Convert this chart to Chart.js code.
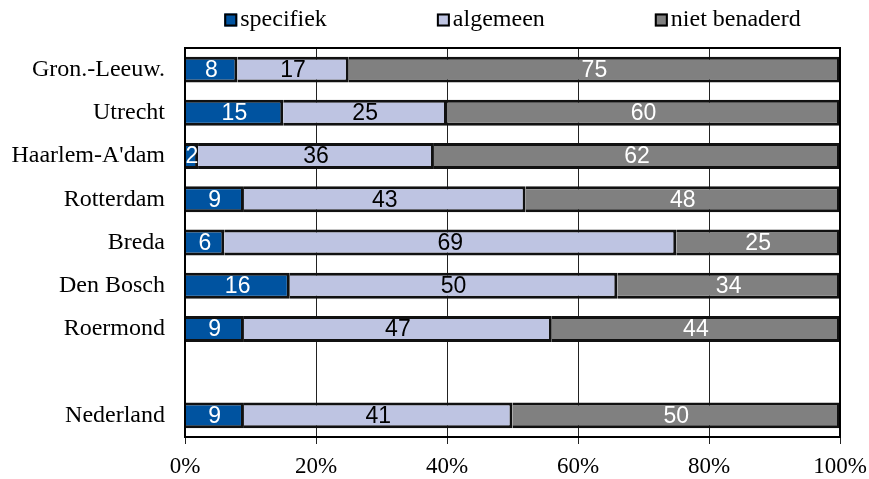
<!DOCTYPE html>
<html>
<head>
<meta charset="utf-8">
<script src="https://cdn.jsdelivr.net/npm/chart.js@4"></script>
<style>
html,body{margin:0;padding:0;background:#fff;}
#wrap{width:869px;height:479px;position:relative;}
</style>
</head>
<body>
<div id="wrap"><canvas id="c"></canvas></div>
<script>
const categories = ['Gron.-Leeuw.', 'Utrecht', "Haarlem-A'dam", 'Rotterdam', 'Breda', 'Den Bosch', 'Roermond', '', 'Nederland'];
const specifiek = [8, 15, 2, 9, 6, 16, 9, null, 9];
const algemeen = [17, 25, 36, 43, 69, 50, 47, null, 41];
const nietBenaderd = [75, 60, 62, 48, 25, 34, 44, null, 50];
const seriesNames = ['specifiek', 'algemeen', 'niet benaderd'];
const xTickValues = [0, 20, 40, 60, 80, 100];

const colors = ['#0053A0', '#BEC4E2', '#808080'];
const labelColors = ['#ffffff', '#000000', '#ffffff'];

const frameAndLabels = {
  id: 'frameAndLabels',
  afterDatasetsDraw(chart) {
    const ctx = chart.ctx;
    const a = chart.chartArea;
    ctx.save();
    ctx.font = '23px "Liberation Sans", Arial, sans-serif';
    ctx.textAlign = 'center';
    ctx.textBaseline = 'middle';
    chart.data.datasets.forEach((ds, di) => {
      const meta = chart.getDatasetMeta(di);
      meta.data.forEach((el, i) => {
        const v = ds.data[i];
        if (v === null || v === undefined) return;
        ctx.fillStyle = labelColors[di];
        ctx.fillText(String(v), (el.x + el.base) / 2, el.y + 1);
      });
    });
    ctx.strokeStyle = '#000';
    ctx.lineWidth = 2;
    ctx.strokeRect(a.left, a.top, a.right - a.left, a.bottom - a.top);
    ctx.restore();
  },
  afterDraw(chart) {
    const ctx = chart.ctx;
    const a = chart.chartArea;
    ctx.save();
    ctx.font = '24px "Liberation Serif", "Times New Roman", serif';
    ctx.textBaseline = 'middle';
    ctx.textAlign = 'left';
    const box = 13, boxGap = 3, itemGap = 110;
    const widths = chart.data.datasets.map(ds => box + boxGap + ctx.measureText(ds.label).width);
    const total = widths.reduce((s, w) => s + w, 0) + itemGap * (widths.length - 1);
    let x = (a.left + a.right) / 2 - total / 2;
    const yc = 20;
    chart.data.datasets.forEach((ds, i) => {
      ctx.fillStyle = ds.backgroundColor;
      ctx.fillRect(x, yc - box / 2, box, box);
      ctx.strokeStyle = '#000';
      ctx.lineWidth = 2;
      ctx.strokeRect(x + 1, yc - box / 2 + 1, box - 2, box - 2);
      ctx.fillStyle = '#000';
      ctx.fillText(ds.label, x + box + boxGap, yc);
      x += widths[i] + itemGap;
    });
    ctx.restore();
  }
};

new Chart(document.getElementById('c'), {
  type: 'bar',
  data: {
    labels: categories,
    datasets: [
      { label: seriesNames[0], data: specifiek, backgroundColor: colors[0] },
      { label: seriesNames[1], data: algemeen, backgroundColor: colors[1] },
      { label: seriesNames[2], data: nietBenaderd, backgroundColor: colors[2] }
    ]
  },
  options: {
    indexAxis: 'y',
    responsive: true,
    maintainAspectRatio: false,
    animation: false,
    devicePixelRatio: 1,
    layout: { padding: { top: 48, left: 10, right: 29, bottom: 0 } },
    datasets: {
      bar: {
        borderColor: '#111',
        borderWidth: 3,
        categoryPercentage: 1,
        barPercentage: 0.6
      }
    },
    plugins: {
      legend: { display: false },
      tooltip: { enabled: false }
    },
    scales: {
      x: {
        stacked: true,
        min: 0,
        max: 100,
        afterBuildTicks(scale) { scale.ticks = xTickValues.map(v => ({ value: v })); },
        afterFit(scale) { scale.height = 42; scale.paddingRight = 0; scale.paddingLeft = 0; },
        ticks: {
          callback: v => v + '%',
          color: '#000',
          padding: 11,
          maxRotation: 0,
          font: { family: '"Liberation Serif", "Times New Roman", serif', size: 23, lineHeight: 1 }
        },
        grid: { color: '#222', lineWidth: 1, tickLength: 7, drawOnChartArea: true },
        border: { color: '#000', width: 2 }
      },
      y: {
        stacked: true,
        afterFit(scale) { scale.width = 175; },
        ticks: {
          color: '#000',
          padding: 12,
          font: { family: '"Liberation Serif", "Times New Roman", serif', size: 24 }
        },
        grid: { display: false },
        border: { color: '#000', width: 2 }
      }
    }
  },
  plugins: [frameAndLabels]
});
</script>
</body>
</html>
